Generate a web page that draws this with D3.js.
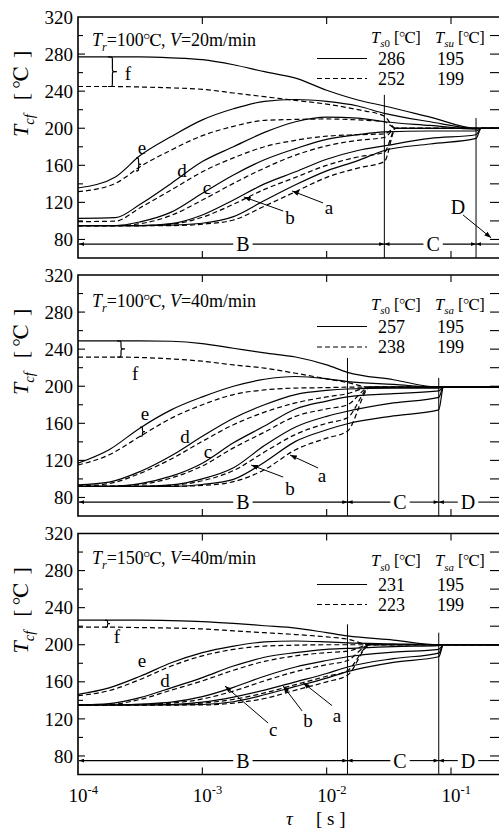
<!DOCTYPE html>
<html><head><meta charset="utf-8">
<script src="https://cdn.jsdelivr.net/npm/d3@7"></script>
<style>
body{margin:0;background:#fff}
svg{display:block}
</style>
</head><body>
<svg id="c" width="499" height="829"></svg>
<script>
// ---------------- DATA ----------------
const curveKeys = ["a","b","c","d","e","f"];
const yTicks = [80,120,160,200,240,280,320];
const xTickVals = [1e-4,1e-3,1e-2,1e-1];
const xTickExp = ["-4","-3","-2","-1"];

// Panel 1 : Tr=100, V=20 m/min
const p1TauB = [0.0001,0.0002,0.000316,0.000562,0.001,0.00178,0.00316,0.00562,0.01,0.0178,0.0291];
const p1TauSolidTail = [0.068,0.159,0.175,0.3];
const p1TauDashTail = [0.036,0.159,0.3];
const p1Solid = {
  a:[95,95,95,95.5,97.5,104.6,122,139,154,165,176,183,189,200,200],
  b:[95,95,95,97,106.4,122.6,140,153,166.5,176,181,189,193,200,200],
  c:[95,95,99,109.5,129.8,149.6,166,178,188,193,196,197,197,200,200],
  d:[102.8,103.5,118,140.5,164,180,195.5,207,212,211,207,203,199,200,200],
  e:[135.5,147.5,170.5,191,209,221,229,231,229,224,216,207,200,200,200],
  f:[277,277,277,276,274,268.5,261,254,241,230.5,224,212,200,200,200]
};
const p1Dashed = {
  a:[95,95,95,95,96.5,101,116,131.5,147,157,164,200,200,200],
  b:[95,95,95,96.5,104,118,134,147,160,169,174,200,200,200],
  c:[95,95,97,106,122.5,140.5,157,171,181,187,190,200,200,200],
  d:[99.2,99.8,114.3,133.4,153,168,180,187,191.5,193,194,200,200,200],
  e:[131.5,140.5,158.5,176.5,192,202,208.5,209.5,210,209,207,200,200,200],
  f:[245,245,244.5,243.5,242,238,234,230,226,220,213,200,200,200]
};
const p1Bounds = [0.0291,0.159];
const p1Legend = {head2:"su", solid:["286","195"], dashed:["252","199"]};

// Panel 2 : Tr=100, V=40 m/min
const p2TauB = [0.0001,0.000178,0.000316,0.000562,0.001,0.00178,0.00316,0.00562,0.01,0.0147];
const p2TauSolidTail = [0.0344,0.0797,0.087,0.3];
const p2TauDashTail = [0.0224,0.0797,0.3];
const p2Solid = {
  a:[92,92,92,92,94,99.5,118,140.5,153,159.5,168,174.5,199,199],
  b:[92,92,92,93.5,100,112,136,156,167.5,173,182,188,199,199],
  c:[92,92,95,103,117,139,157,175.5,184,188.5,192,195,199,199],
  d:[93.5,96.5,108,125,146,165.5,180,191,195.5,197,198,198,199,199],
  e:[117,131.5,155,174.5,188.5,200,207.5,210.5,208,205,202,199,199,199],
  f:[249,249,249,248.5,246,241,236,231.5,223,215,207,199,199,199]
};
const p2Dashed = {
  a:[92,92,92,92,93,97,110,131.5,144,151.5,199,199,199],
  b:[92,92,92,93,98,109,129,148,160,166,199,199,199],
  c:[92,92,94,101,114,133.5,150.5,167.5,175.5,180,199,199,199],
  d:[92,95,106,121.5,140.5,158.5,172,182,188.5,192,199,199,199],
  e:[115,126,146,165.5,180,191,196,198,198.5,199,199,199,199],
  f:[231.5,231.5,231,229.5,227,223,219.5,214,208,204,199,199,199]
};
const p2Bounds = [0.0147,0.0797];
const p2Legend = {head2:"sa", solid:["257","195"], dashed:["238","199"]};

// Panel 3 : Tr=150, V=40 m/min
const p3TauB = p2TauB;
const p3TauSolidTail = p2TauSolidTail;
const p3TauDashTail = p2TauDashTail;
const p3Solid = {
  a:[135,135,135,135,135.5,138.5,146,155,164,171,181,187,200,200],
  b:[135,135,135,135.5,138,143.5,151,160,169,176,185,191,200,200],
  c:[135,135,136,138,144,154,166,176,183,187,192,195,200,200],
  d:[135,136.5,143,153.5,164.5,177,186.5,191.5,195,196,198,199,200,200],
  e:[146.5,153.5,166,180.5,191.5,198.5,203,204,203,202,201,200,200,200],
  f:[226.5,226.5,226.5,226,225,223,220.5,218,213,209.5,205,200,200,200]
};
const p3Dashed = {
  a:[135,135,135,135,135,137,142,151,160,167,200,200,200],
  b:[135,135,135,135,137,141,148,157,166,172,200,200,200],
  c:[135,135,135.5,137,141.5,150,161,171,178.5,183,200,200,200],
  d:[135,135.5,141,151,161,172.5,182,188,191.5,193,200,200,200],
  e:[145,150.5,162.5,177,188,195,198.5,199.5,200,200,200,200,200],
  f:[219,219,218.5,218,217,215,213,211,208.5,206,200,200,200]
};
const p3Bounds = [0.0147,0.0797];
const p3Legend = {head2:"sa", solid:["231","195"], dashed:["223","199"]};

// ---------------- LAYOUT ----------------
const FONT = "'Liberation Serif', Tinos, 'Times New Roman', Times, 'Nimbus Roman', 'Nimbus Roman No9 L', FreeSerif, 'Noto Serif', 'DejaVu Serif', 'Noto Serif CJK JP', serif";
const svg = d3.select("#c");
const PH = 241, X0 = 78, XR = 500;
const x = d3.scaleLog().domain([1e-4,1e-1]).range([78,451]);

const defs = svg.append("defs");
defs.append("marker").attr("id","arr").attr("viewBox","0 0 8 6").attr("refX",8).attr("refY",3)
  .attr("markerWidth",7).attr("markerHeight",5).attr("orient","auto-start-reverse")
  .append("path").attr("d","M0,0L8,3L0,6Z").attr("fill","#000");
defs.append("marker").attr("id","sarr").attr("viewBox","0 0 8 6").attr("refX",8).attr("refY",3)
  .attr("markerWidth",5).attr("markerHeight",3.5).attr("orient","auto-start-reverse")
  .append("path").attr("d","M0,0L8,3L0,6Z").attr("fill","#000");

function txt(g){ return g.append("text").style("font-family",FONT).attr("fill","#000"); }

function rich(g, xx, yy, parts, size, anchor){
  const t = txt(g).attr("x",xx).attr("y",yy).attr("font-size",size).attr("text-anchor",anchor||"start");
  let shift = 0;
  parts.forEach(p=>{
    const s = t.append("tspan").text(p.t);
    const target = p.sub ? size*0.28 : (p.sup ? -size*0.42 : 0);
    let dy = target - shift;
    if (dy !== 0) s.attr("dy", dy);
    shift = target;
    if (p.sub || p.sup) s.attr("font-size", size*0.66);
    if (p.i) s.attr("font-style","italic");
    if (p.dx) s.attr("dx", p.dx);
  });
  return t;
}

function bracePath(xx, y1, y2, w){
  const ym = (y1+y2)/2, xm = xx + w/2, r = Math.min(3,(y2-y1)/4);
  return `M${xx},${y1} C${xm},${y1} ${xm},${y1} ${xm},${y1+r} L${xm},${ym-r} C${xm},${ym} ${xm},${ym} ${xx+w},${ym}`+
         ` C${xm},${ym} ${xm},${ym} ${xm},${ym+r} L${xm},${y2-r} C${xm},${y2} ${xm},${y2} ${xx},${y2}`;
}

const panels = [
  {top:17, tauB:p1TauB, tauST:p1TauSolidTail, tauDT:p1TauDashTail, solid:p1Solid, dashed:p1Dashed,
   bounds:p1Bounds, vTop:[236,211], legend:p1Legend, title:["100","20"], tOff:29,
   lHead:25.5, lRow:[41.5,61.5],
   bcd:{B:0.00212, C:0.0718, D:null},
   labels:[["f",0.000252,259.6],["e",0.000327,179.8],["d",0.000687,155],["c",0.00109,136.6],["b",0.00508,104.2],["a",0.01044,115],["D",0.114,115]],
   leaders:[[0.00447,110.7,0.00216,125.8],[0.00935,119.4,0.00527,132.3],[0.125,106.4,0.21,81.8]],
   braces:[[0.000174,245,277,9],[0.000293,154,168,5]]},
  {top:275, tauB:p2TauB, tauST:p2TauSolidTail, tauDT:p2TauDashTail, solid:p2Solid, dashed:p2Dashed,
   bounds:p2Bounds, vTop:[230.5,209], legend:p2Legend, title:["100","40"], tOff:32,
   lHead:34.5, lRow:[51.5,72],
   bcd:{B:0.00212, C:0.0389, D:0.137},
   labels:[["f",0.000288,214.3],["e",0.000346,171],["d",0.000726,146.3],["c",0.00111,130],["b",0.00508,90.2],["a",0.00918,104.3]],
   leaders:[[0.00447,102,0.00247,115],[0.00853,111.8,0.00508,125.8]],
   braces:[[0.000206,231.5,249,8],[0.000315,146,156,5]]},
  {top:533.5, tauB:p3TauB, tauST:p3TauSolidTail, tauDT:p3TauDashTail, solid:p3Solid, dashed:p3Dashed,
   bounds:p3Bounds, vTop:[222,213], legend:p3Legend, title:["150","40"], tOff:30.5,
   lHead:32.5, lRow:[51,71],
   bcd:{B:0.00212, C:0.0389, D:0.137},
   labels:[["f",0.000206,209.5],["e",0.000327,183.6],["d",0.000501,162],["c",0.00371,109],["b",0.00708,118],["a",0.01213,123.5]],
   leaders:[[0.00338,115.5,0.00152,155.4],[0.00634,128.6,0.00447,155.4],[0.01105,134.3,0.00646,159]],
   braces:[[0.000165,219,226.5,5]]}
];

panels.forEach((P, pi)=>{
  const top = P.top, bot = top + PH;
  const y = d3.scaleLinear().domain([60,320]).range([bot, top]);
  const g = svg.append("g");
  const cid = "clip"+pi;
  defs.append("clipPath").attr("id",cid).append("rect").attr("x",X0).attr("y",top).attr("width",XR-X0).attr("height",PH);

  // frame
  g.append("path").attr("d",`M${XR},${top}H${X0}V${bot}H${XR}`).attr("fill","none").attr("stroke","#000").attr("stroke-width",1.6);

  // y ticks left and right
  d3.range(80,320,20).forEach(v=>{
    const major = v % 40 === 0;
    g.append("line").attr("x1",X0).attr("x2",X0+(major?7:5)).attr("y1",y(v)).attr("y2",y(v)).attr("stroke","#000").attr("stroke-width",1.1);
    g.append("line").attr("x1",490).attr("x2",XR).attr("y1",y(v)).attr("y2",y(v)).attr("stroke","#000").attr("stroke-width",1.1);
  });
  yTicks.forEach(v=>{
    txt(g).attr("x",73).attr("y",y(v)).attr("dy","0.35em").attr("text-anchor","end").attr("font-size",19).text(v);
  });
  // x ticks top and bottom
  xTickVals.slice(1).forEach(t=>{
    g.append("line").attr("x1",x(t)).attr("x2",x(t)).attr("y1",top).attr("y2",top+7).attr("stroke","#000").attr("stroke-width",1.1);
    g.append("line").attr("x1",x(t)).attr("x2",x(t)).attr("y1",bot).attr("y2",bot-7).attr("stroke","#000").attr("stroke-width",1.1);
  });

  // y axis title
  const yl = svg.append("g").attr("transform",`translate(28,${top+120}) rotate(-90)`);
  rich(yl,0,0,[{t:"T",i:1},{t:"cf",sub:1,i:1},{t:"[",dx:14},{t:"℃",dx:5},{t:"]",dx:9}],22);

  // title
  rich(g,92,top+P.tOff,[{t:"T",i:1},{t:"r",sub:1,i:1},{t:"="+P.title[0]+"℃, "},{t:"V",i:1},{t:"="+P.title[1]+"m/min"}],18);

  // legend
  rich(g,371,top+P.lHead,[{t:"T",i:1},{t:"s",sub:1,i:1},{t:"0",sub:1},{t:" [℃]"}],16.5);
  rich(g,435,top+P.lHead,[{t:"T",i:1},{t:P.legend.head2,sub:1,i:1},{t:" [℃]"}],16.5);
  [[P.legend.solid,null],[P.legend.dashed,"5,3"]].forEach((row,ri)=>{
    const yy = top + P.lRow[ri];
    g.append("line").attr("x1",317).attr("x2",367).attr("y1",yy).attr("y2",yy).attr("stroke","#000").attr("stroke-width",1.2).attr("stroke-dasharray",row[1]);
    txt(g).attr("x",378).attr("y",yy).attr("dy","0.35em").attr("font-size",18).text(row[0][0]);
    txt(g).attr("x",437).attr("y",yy).attr("dy","0.35em").attr("font-size",18).text(row[0][1]);
  });

  // curves
  const cg = g.append("g").attr("clip-path",`url(#${cid})`);
  const ln = d3.line().x(d=>x(d[0])).y(d=>y(d[1])).curve(d3.curveMonotoneX);
  curveKeys.forEach(k=>{
    const sv = P.solid[k], dv = P.dashed[k], nB = P.tauB.length;
    const sp = P.tauB.map((t,i)=>[t,sv[i]]).concat(P.tauST.map((t,i)=>[t,sv[nB+i]]));
    const dp = P.tauB.map((t,i)=>[t,dv[i]]).concat(P.tauDT.map((t,i)=>[t,dv[nB+i]]));
    cg.append("path").attr("d",ln(dp)).attr("fill","none").attr("stroke","#000").attr("stroke-width",1.2).attr("stroke-dasharray","5,3");
    cg.append("path").attr("d",ln(sp)).attr("fill","none").attr("stroke","#000").attr("stroke-width",1.2);
  });

  // region boundaries
  P.bounds.forEach((t,i)=>{
    g.append("line").attr("x1",x(t)).attr("x2",x(t)).attr("y1",y(P.vTop[i])).attr("y2",bot).attr("stroke","#000").attr("stroke-width",1);
  });

  // B / C / D line
  const yb = y(75);
  const lab = (s, t)=>{
    const tx = txt(g).attr("x",x(t)).attr("y",yb).attr("dy","0.35em").attr("text-anchor","middle").attr("font-size",20).text(s);
    const w = tx.node().getComputedTextLength();
    return [x(t)-w/2-3, x(t)+w/2+3];
  };
  const seg = (x1,x2,ms,me)=>{
    const l = g.append("line").attr("x1",x1).attr("x2",x2).attr("y1",yb).attr("y2",yb).attr("stroke","#000").attr("stroke-width",1.1);
    if (ms) l.attr("marker-start","url(#sarr)");
    if (me) l.attr("marker-end","url(#sarr)");
  };
  const L1 = x(P.bounds[0]), L2 = x(P.bounds[1]);
  const bB = lab("B",P.bcd.B), bC = lab("C",P.bcd.C);
  seg(X0+1,bB[0],true,false); seg(bB[1],L1,false,true);
  seg(L1,bC[0],true,false); seg(bC[1],L2,false,true);
  if (P.bcd.D){ const bD = lab("D",P.bcd.D); seg(L2,bD[0],true,false); seg(bD[1],XR,false,false); }
  else seg(L2,XR,true,false);

  // labels, leaders, braces
  P.labels.forEach(l=>{
    txt(g).attr("x",x(l[1])).attr("y",y(l[2])).attr("dy","0.35em").attr("text-anchor","middle")
      .attr("font-size", l[0]==="D"?20:19).text(l[0]);
  });
  P.leaders.forEach(l=>{
    g.append("line").attr("x1",x(l[0])).attr("y1",y(l[1])).attr("x2",x(l[2])).attr("y2",y(l[3]))
      .attr("stroke","#000").attr("stroke-width",1).attr("marker-end","url(#arr)");
  });
  P.braces.forEach(b=>{
    g.append("path").attr("d",bracePath(x(b[0]),y(b[2]),y(b[1]),b[3])).attr("fill","none").attr("stroke","#000").attr("stroke-width",1.2);
  });

  // x tick labels on bottom panel
  if (pi === 2){
    xTickVals.forEach((t,i)=>{
      rich(g,x(t)-9.5,bot+27,[{t:"10"},{t:xTickExp[i],sup:1}],19);
    });
    rich(g,286,bot+50,[{t:"τ",i:1}],19);
    txt(g).attr("x",316).attr("y",bot+50).attr("font-size",19).text("[ s ]");
  }
});
</script>
</body></html>
